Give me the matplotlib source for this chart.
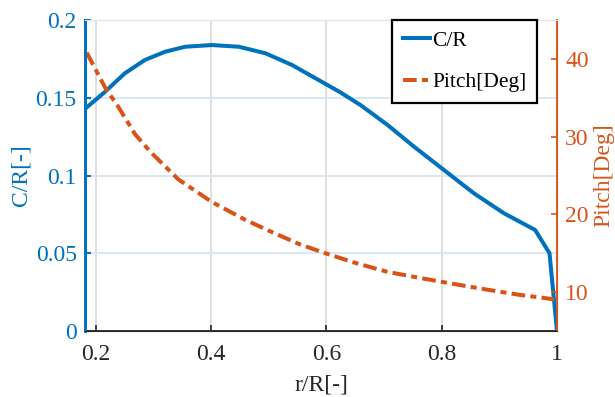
import matplotlib
matplotlib.use("Agg")
import matplotlib.pyplot as plt

# C/R distribution
r_cr = [0.182, 0.216, 0.250, 0.285, 0.320, 0.355, 0.401, 0.448, 0.494, 0.540, 0.594,
        0.624, 0.659, 0.706, 0.752, 0.804, 0.856, 0.908, 0.962, 0.987, 1.0]
cr = [0.1432, 0.1539, 0.1657, 0.1743, 0.1796, 0.1828, 0.1839, 0.1828, 0.1786, 0.1711, 0.1598,
      0.1535, 0.1453, 0.1325, 0.1185, 0.1035, 0.0885, 0.0757, 0.0650, 0.0500, 0.0]

# Pitch distribution
r_p = [0.184, 0.216, 0.239, 0.268, 0.295, 0.343, 0.401, 0.459, 0.506, 0.552, 0.594,
       0.648, 0.706, 0.764, 0.821, 0.880, 0.937, 0.995]
pitch = [40.8, 36.3, 33.8, 30.3, 28.0, 24.5, 21.6, 19.3, 17.7, 16.2, 15.1,
         13.8, 12.6, 11.8, 11.05, 10.3, 9.63, 9.08]

xticks = [0.2, 0.4, 0.6, 0.8, 1.0]
xticklabels = ["0.2", "0.4", "0.6", "0.8", "1"]
yticks_l = [0, 0.05, 0.1, 0.15, 0.2]
yticklabels_l = ["0", "0.05", "0.1", "0.15", "0.2"]
yticks_r = [10, 20, 30, 40]

blue = "#0072BD"
orange = "#D95319"

plt.rcParams['font.family'] = ['Liberation Serif', 'DejaVu Serif']

fig = plt.figure(figsize=(6.15, 3.97), dpi=100)
ax = fig.add_axes([85 / 615, 66 / 397, 472 / 615, 311 / 397])
ax2 = ax.twinx()

l1, = ax.plot(r_cr, cr, color=blue, lw=2.9, label="C/R")
l2, = ax2.plot(r_p, pitch, color=orange, lw=2.9, linestyle=(0, (3.4, 1.3, 1.5, 1.3)),
               label="Pitch[Deg]")

ax.set_xlim(0.181, 1.0)
ax.set_ylim(0, 0.2)
ax2.set_ylim(5, 45)

ax.set_xticks(xticks)
ax.set_xticklabels(xticklabels)
ax.set_yticks(yticks_l)
ax.set_yticklabels(yticklabels_l)
ax2.set_yticks(yticks_r)

ax.grid(True, axis='x', color='#dcdcdc', lw=1.3)
ax.grid(True, axis='y', color='#d6e6f3', lw=1.3)
ax.set_axisbelow(True)

fs = 17
ax.tick_params(axis='x', direction='in', colors='#262626', labelsize=fs, length=4, width=1.2, pad=9)
ax.tick_params(axis='y', direction='in', colors=blue, labelsize=fs, length=4, width=1.5, pad=6)
ax2.tick_params(axis='y', direction='in', colors=orange, labelsize=fs, length=4, width=1.2, pad=6)

for a in (ax, ax2):
    a.spines['top'].set_color('#e4e4e4')
    a.spines['bottom'].set_color('#262626')
    a.spines['left'].set_color(blue)
    a.spines['right'].set_color(orange)
ax.spines['left'].set_linewidth(2)
ax2.spines['left'].set_linewidth(2)
ax2.spines['right'].set_linewidth(1.3)
ax.spines['bottom'].set_linewidth(1.3)

ax.set_xlabel("r/R[-]", fontsize=fs, color='#262626', labelpad=7)
ax.set_ylabel("C/R[-]", fontsize=fs, color=blue, labelpad=3)
ax2.set_ylabel("Pitch[Deg]", fontsize=fs, color=orange, labelpad=3)

leg = ax2.legend(handles=[l1, l2], loc='upper right', fontsize=15.5, frameon=True,
                 fancybox=False, edgecolor='black', framealpha=1, handlelength=1.25,
                 handletextpad=0.1, borderaxespad=0.0, labelspacing=1.0,
                 borderpad=0.5, bbox_to_anchor=(0.958, 1.0))
leg.get_frame().set_linewidth(1.6)

fig.savefig("out.png", dpi=100)
